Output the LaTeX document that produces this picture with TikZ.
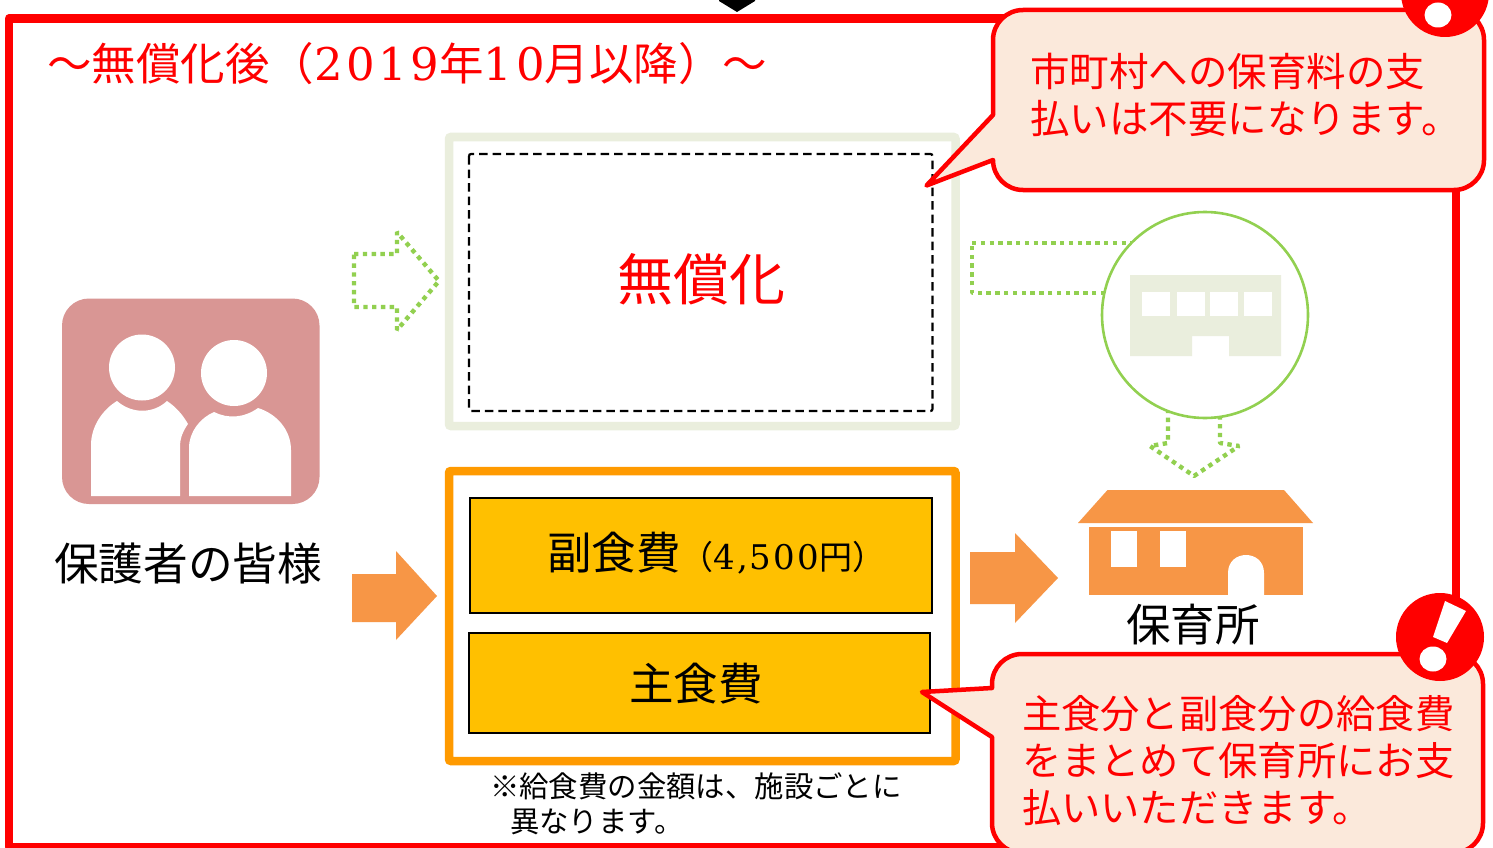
\documentclass[tikz,border=0pt]{standalone}
\usepackage{fontspec}
\setmainfont{Noto Sans CJK JP}
\newfontfamily\latA{DejaVu Serif}[LetterSpace=8]
\newfontfamily\latB{DejaVu Serif}[LetterSpace=6]
\definecolor{redc}{HTML}{FF0000}
\definecolor{paleg}{HTML}{EAEEDD}
\definecolor{greenc}{HTML}{92D050}
\definecolor{orangeb}{HTML}{FF9A00}
\definecolor{oranga}{HTML}{F79646}
\definecolor{yellowb}{HTML}{FFC000}
\definecolor{pinkc}{HTML}{D99694}
\definecolor{calloutc}{HTML}{FBE9DB}
\newcommand\fs[2]{\fontsize{#1}{#2}\selectfont}
\tikzset{
  x=1pt,y=-1pt,
  txt/.style={inner sep=0pt,outer sep=0pt,text=black,anchor=base west},
  rtxt/.style={txt,text=redc},
  callout/.style={draw=redc,line width=4.5pt,fill=calloutc,line join=round},
  dotarrow/.style={draw=greenc,line width=4.4pt,dash pattern=on 4.4pt off 4.4pt,fill=none,line join=bevel},
  solidarrow/.style={fill=oranga,draw=none},
  yellowbox/.style={draw=black,line width=2pt,fill=yellowb,anchor=north west,inner sep=0pt,outer sep=0pt},
  icon/.style={fill=white,draw=none}
}
\begin{document}
\begin{tikzpicture}
\useasboundingbox (0,0) rectangle (1493,848);
\clip (0,0) rectangle (1493,848);
\fill[white] (0,0) rectangle (1493,848);
% black arrow tip from above
\fill[black] (719,-2) -- (755,-2) -- (755,1) -- (737,12) -- (719,1) -- cycle;
% outer frame
\draw[redc,line width=8.5pt,line join=round] (9,18.5) rectangle (1456,847);
\node[rtxt] (title) at (47,81) {\fs{44.5}{50}〜無償化後（{\latA\fs{45}{50}2019}年{\latA\fs{45}{50}10}月以降）〜};
% family icon
\fill[pinkc,rounded corners=27pt] (62,298.5) rectangle (319.5,504);
\fill[icon] (142,367.5) circle[radius=33];
\fill[icon] (234,373) circle[radius=33];
\fill[icon] (91,496) -- (91,445) .. controls (91,427) and (102,410) .. (117,401)
  .. controls (132,414) and (153,414) .. (167,401) .. controls (176,407) and (183,415) .. (188,424)
  .. controls (183,431) and (180,438) .. (180,447) -- (180,496) -- cycle;
\fill[icon] (189,496) -- (189,448) .. controls (189,432) and (200,418) .. (214,412)
  .. controls (228,419) and (244,418) .. (258,408) .. controls (277,414) and (291,430) .. (291,450)
  -- (291,496) -- cycle;
\node[txt] (parents) at (54,580) {\fs{44.7}{50}保護者の皆様};
% left arrows
\draw[dotarrow] (354,254) -- (397,254) -- (397,232) -- (439,281) -- (397,330) -- (397,307) -- (354,307) -- cycle;
\fill[solidarrow] (352,574) -- (396,574) -- (396,551) -- (437,596) -- (396,640) -- (396,622) -- (352,622) -- cycle;
% free-of-charge box
\draw[paleg,line width=8.5pt,rounded corners=2pt] (449,137) rectangle (955.5,426);
\draw[black,line width=2.2pt,dash pattern=on 8.5pt off 5pt,rounded corners=2pt] (469,154) rectangle (932.5,411);
\node[rtxt] (free) at (617,300) {\fs{56}{60}無償化};
% meal box
\draw[orangeb,line width=8.5pt,rounded corners=2pt] (449,471) rectangle (955.5,761);
\node[yellowbox,minimum width=461.5pt,minimum height=115pt] (sub) at (470,498) {};
\node[yellowbox,minimum width=461pt,minimum height=100pt] (main) at (469,633) {};
\node[txt] (subt) at (547,569) {\fs{44.5}{50}副食費\fs{33}{35}（{\latB\fs{34}{35}4,500}円）};
\node[txt] (maint) at (629,700) {\fs{44.5}{50}主食費};
\node[txt,align=left,anchor=north west,font=\fs{29.4}{35}] (note) at (490,773) {※給食費の金額は、施設ごとに\\\hspace*{20pt}異なります。};
% right arrows and building
\draw[dotarrow] (972,243) -- (1150,243) -- (1150,293) -- (972,293) -- cycle;
\draw[dotarrow] (1168,400) -- (1168,443) -- (1150,446) -- (1194,476) -- (1239,446) -- (1220,443) -- (1220,400);
\draw[greenc,line width=2.6pt,fill=white] (1205,315) circle[radius=103];
\fill[paleg] (1130,275) -- (1281,275) -- (1281,356) -- (1229,356) -- (1229,336) -- (1192,336) -- (1192,356) -- (1130,356) -- cycle;
\fill[icon] (1142,292) rectangle (1170,316);
\fill[icon] (1177,292) rectangle (1205,316);
\fill[icon] (1210,292) rectangle (1238,316);
\fill[icon] (1244,292) rectangle (1272,316);
\fill[solidarrow] (970,552) -- (1015,552) -- (1015,533) -- (1058,578) -- (1015,623) -- (1015,604) -- (970,604) -- cycle;
% nursery house
\fill[oranga] (1078,523) -- (1107.5,490) -- (1284,490) -- (1313,523) -- cycle;
\fill[oranga] (1089,527) rectangle (1303,595);
\fill[icon] (1111,531) rectangle (1137,567);
\fill[icon] (1159.5,531) rectangle (1186,567);
\fill[icon] (1228,595) -- (1228,573) .. controls (1228,561) and (1237,555) .. (1246,555) .. controls (1255,555) and (1264,561) .. (1264,573) -- (1264,595) -- cycle;
\node[txt] (nursery) at (1126,641) {\fs{44.5}{50}保育所};
% callout 1
\draw[callout] (993,115) -- (993,40) arc[start angle=180,end angle=270,radius=30] -- (1454,10)
  arc[start angle=270,end angle=360,radius=30] -- (1484,160) arc[start angle=0,end angle=90,radius=30]
  -- (1023,190) arc[start angle=90,end angle=180,radius=30] -- (926.5,185.5) -- cycle;
\fill[redc] (1445,-7) circle[radius=44];
\fill[white] (1438,15) ellipse[x radius=13.5,y radius=12.5];
\node[rtxt,align=left,anchor=north west,font=\fs{39.5}{47}] (c1) at (1030,53) {市町村への保育料の支\\払いは不要になります。};
% callout 2
\draw[callout] (992,688) -- (992,684) arc[start angle=180,end angle=270,radius=30] -- (1453,654)
  arc[start angle=270,end angle=360,radius=30] -- (1483,823) arc[start angle=0,end angle=90,radius=30]
  -- (1022,853) arc[start angle=90,end angle=180,radius=30] -- (992,737) -- (922,692) -- cycle;
\fill[redc] (1440,637) circle[radius=44];
\fill[white] (1433,659) ellipse[x radius=13.5,y radius=12.5];
\fill[white] (1445,601) -- (1466,611) -- (1447,643) -- (1433,637) -- cycle;
\node[rtxt,align=left,anchor=north west,font=\fs{39.3}{47}] (c2) at (1022,695) {主食分と副食分の給食費\\をまとめて保育所にお支\\払いいただきます。};
\end{tikzpicture}
\end{document}
